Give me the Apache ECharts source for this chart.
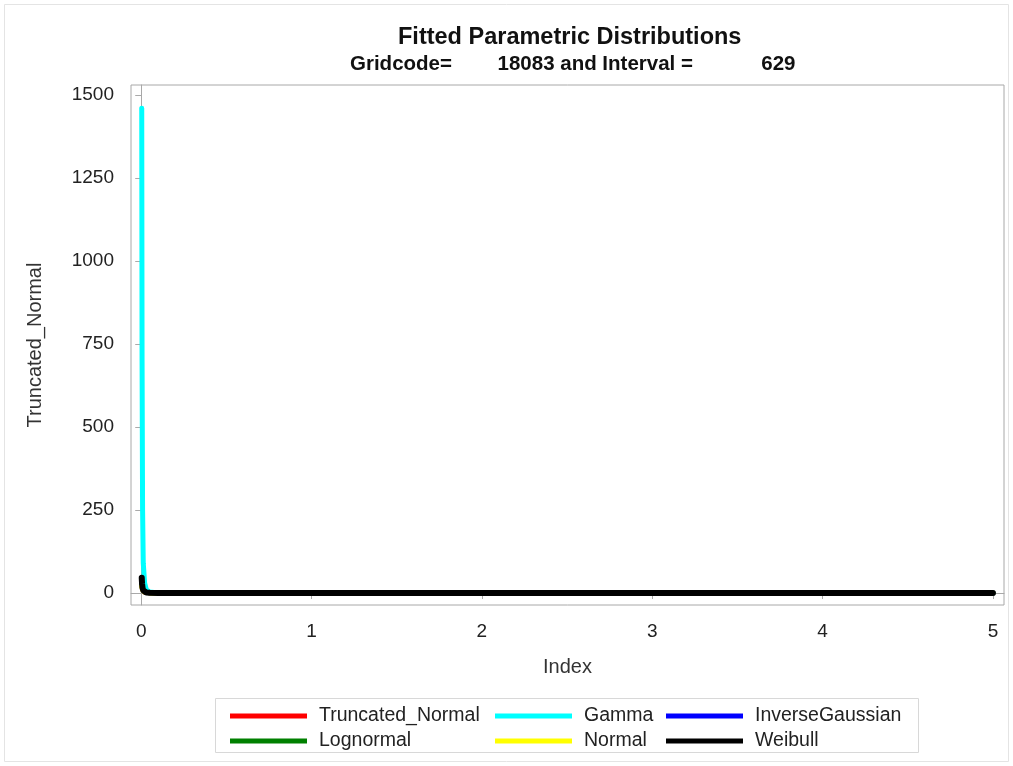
<!DOCTYPE html>
<html>
<head>
<meta charset="utf-8">
<script src="https://cdn.jsdelivr.net/npm/echarts@6/dist/echarts.min.js"></script>
<style>html,body{margin:0;padding:0;background:#fff}#c{width:1013px;height:766px}</style>
</head>
<body>
<div id="c"></div>
<script>
// ---- data ----
const xValues      = [0.003, 0.005, 0.008, 0.012, 0.02, 0.03, 0.05, 0.1, 0.2, 0.5, 1, 2, 3, 4, 5];
const truncNormal  = [30, 20, 12, 7, 3, 1.5, 0.6, 0.2, 0.05, 0, 0, 0, 0, 0, 0];
const gamma        = [1460, 700, 250, 90, 30, 10, 3, 0.5, 0.05, 0, 0, 0, 0, 0, 0];
const invGaussian  = [35, 22, 13, 7, 3, 1.5, 0.6, 0.2, 0.05, 0, 0, 0, 0, 0, 0];
const lognormal    = [38, 24, 14, 8, 3.5, 1.6, 0.6, 0.2, 0.05, 0, 0, 0, 0, 0, 0];
const normal       = [20, 15, 10, 6, 3, 1.5, 0.5, 0.1, 0, 0, 0, 0, 0, 0, 0];
const weibull      = [46, 28, 15, 8, 3.5, 1.5, 0.6, 0.2, 0.05, 0, 0, 0, 0, 0, 0];
const xTicks = [0, 1, 2, 3, 4, 5];
const yTicks = [0, 250, 500, 750, 1000, 1250, 1500];
const seriesNames = ['Truncated_Normal', 'Gamma', 'InverseGaussian', 'Lognormal', 'Normal', 'Weibull'];
const seriesColors = ['#ff0000', '#00ffff', '#0000ff', '#008000', '#ffff00', '#000000'];
const seriesData = [truncNormal, gamma, invGaussian, lognormal, normal, weibull];

const FONT = '"Liberation Sans", Arial, sans-serif';
const chart = echarts.init(document.getElementById('c'), null, {renderer: 'canvas'});

const drawOrder = [0, 2, 3, 4, 1, 5];
const series = drawOrder.map((i, k) => ({
  name: seriesNames[i],
  type: 'line',
  data: xValues.map((x, j) => [x, seriesData[i][j]]),
  showSymbol: false,
  symbol: 'none',
  z: 2 + k,
  lineStyle: {color: seriesColors[i], width: i === 5 ? 6 : 5, cap: 'round', join: 'round'},
  itemStyle: {color: seriesColors[i]},
  animation: false
}));

const legendCommon = {
  orient: 'vertical',
  itemWidth: 77,
  itemHeight: 5,
  itemGap: 5,
  icon: 'rect',
  selectedMode: false,
  textStyle: {fontFamily: FONT, fontSize: 19.5, color: '#222', padding: [0, 0, 0, 7]}
};

chart.setOption({
  backgroundColor: '#fff',
  animation: false,
  title: [
    {text: 'Fitted Parametric Distributions', left: 393, top: 21,
     textStyle: {fontFamily: FONT, fontSize: 23.5, fontWeight: 'bold', color: '#111'}},
    {text: 'Gridcode=        18083 and Interval =            629', left: 345, top: 49,
     textStyle: {fontFamily: FONT, fontSize: 20.5, fontWeight: 'bold', color: '#111'}}
  ],
  grid: {left: 131, right: 9, top: 85, bottom: 161, show: true, borderColor: '#a8a8a8', borderWidth: 1, containLabel: false},
  xAxis: {
    type: 'value', min: -0.06, max: 5.065,
    name: 'Index', nameLocation: 'middle', nameGap: 52,
    nameTextStyle: {fontFamily: FONT, fontSize: 20, color: '#333'},
    axisLine: {show: true, lineStyle: {color: '#a8a8a8'}},
    axisTick: {show: true, inside: false, length: 6, lineStyle: {color: '#aaa'}, customValues: xTicks},
    axisLabel: {fontFamily: FONT, fontSize: 19, color: '#222', margin: 17, customValues: xTicks},
    splitLine: {show: false}
  },
  yAxis: {
    type: 'value', min: -36, max: 1530,
    name: 'Truncated_Normal', nameLocation: 'middle', nameGap: 86, nameRotate: 90,
    nameTextStyle: {fontFamily: FONT, fontSize: 20, color: '#333'},
    axisLine: {show: true, lineStyle: {color: '#a8a8a8'}},
    axisTick: {show: true, inside: false, length: 6, lineStyle: {color: '#aaa'}, customValues: yTicks},
    axisLabel: {fontFamily: FONT, fontSize: 19, color: '#222', margin: 17, customValues: yTicks,
                formatter: v => String(v)},
    splitLine: {show: false}
  },
  legend: [
    Object.assign({}, legendCommon, {data: ['Truncated_Normal', 'Lognormal'], left: 225, top: 701}),
    Object.assign({}, legendCommon, {data: ['Gamma', 'Normal'], left: 490, top: 701}),
    Object.assign({}, legendCommon, {data: ['InverseGaussian', 'Weibull'], left: 661, top: 701})
  ],
  graphic: [
    {type: 'rect', shape: {x: 215.5, y: 698.5, width: 703, height: 54}, style: {fill: null, stroke: '#d8d8d8', lineWidth: 1}, silent: true, z: -1},
    {type: 'rect', shape: {x: 4.5, y: 4.5, width: 1004, height: 757}, style: {fill: null, stroke: '#e4e4e4', lineWidth: 1}, silent: true, z: -1}
  ],
  series: series
});
</script>
</body>
</html>
